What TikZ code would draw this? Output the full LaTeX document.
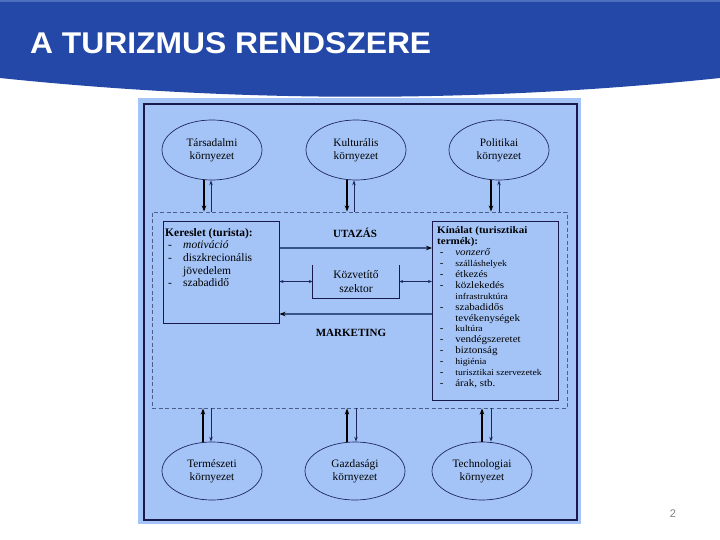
\documentclass[tikz,border=0pt]{standalone}
\usepackage{fontspec}
\setmainfont{Liberation Serif}
\newfontfamily\titlefont{Liberation Sans}
\usepackage{graphicx}
\usetikzlibrary{shapes.geometric,arrows.meta,calc}
\definecolor{hdr}{RGB}{35,72,168}
\definecolor{hdrtop}{RGB}{75,110,190}
\definecolor{pic}{RGB}{164,196,248}
\definecolor{frm}{RGB}{25,25,75}
\definecolor{dsh}{RGB}{75,95,140}
\definecolor{thk}{RGB}{55,85,135}
\definecolor{thn}{RGB}{30,40,90}
\begin{document}
\begin{tikzpicture}[x=1pt,y=-1pt,
  env/.style={ellipse,draw=thn,line width=0.7pt,minimum width=100pt,minimum height=60pt,align=center,font=\fontsize{11.3}{13}\selectfont,inner sep=0pt},
  box/.style={draw=frm,line width=1pt,inner sep=0pt},
  thickarr/.style={-{Stealth[length=6pt,width=4.5pt]},line width=1.6pt,black},
  thinarr/.style={-{Stealth[length=5pt,width=3.5pt]},line width=0.7pt,thn},
  flow/.style={line width=1.8pt,thk,-{Stealth[color=black,length=6pt,width=4.5pt]}},
  bidir/.style={{Stealth[length=4pt,width=3pt]}-{Stealth[length=4pt,width=3pt]},line width=0.6pt,thn},
  lbl/.style={inner sep=0pt,font=\bfseries\fontsize{11}{13}\selectfont},
]
\useasboundingbox (0,0) rectangle (720,540);
\fill[white] (0,0) rectangle (720,540);
% header
\fill[hdr] (0,0) -- (720,0) -- (720,78) .. controls (480,103) and (240,103) .. (0,78) -- cycle;
\fill[hdrtop] (0,0) rectangle (720,2);
\node[anchor=base west,text=white,font=\titlefont\bfseries\fontsize{30}{32}\selectfont,inner sep=0pt] (title) at (30,53.5) {\scalebox{1.06}[1]{A TURIZMUS RENDSZERE}};
% picture frame
\fill[pic] (138,98) rectangle (581,524);
\draw[frm,line width=1.2pt] (144,104) rectangle (577,520);
% ellipses
\node[env] (T1) at (212,150) {Társadalmi\\környezet};
\node[env] (T2) at (356,150) {Kulturális\\környezet};
\node[env] (T3) at (499,150) {Politikai\\környezet};
\node[env,minimum height=58pt] (B1) at (212,471) {Természeti\\környezet};
\node[env,minimum height=58pt] (B2) at (355,471) {Gazdasági\\környezet};
\node[env,minimum height=58pt] (B3) at (482,471) {Technologiai\\környezet};
% dashed system box
\node[draw=dsh,dashed,dash pattern=on 4pt off 2.5pt,line width=0.9pt,minimum width=415pt,minimum height=196pt,inner sep=0pt] (dash) at (359.5,310) {};
% boxes
\node[box,minimum width=116pt,minimum height=101pt] (keres) at (221,272.5) {};
\node[box,minimum width=126pt,minimum height=178pt] (kinal) at (495.5,311) {};
\node[inner sep=0pt,minimum width=86pt,minimum height=33pt,align=center,font=\fontsize{11.5}{14}\selectfont] (kozv) at (356,281.5) {Közvetítő\\szektor};
\draw[frm,line width=1pt] (kozv.north west) -- (kozv.south west) -- (kozv.south east) -- (kozv.north east);
% Kereslet text
\node[anchor=north west,inner sep=0pt] (kerestxt) at (165,227) {\fontsize{11.5}{12.7}\selectfont
\begin{tabular}{@{}p{18pt}@{}l@{}}
\multicolumn{2}{@{}l@{}}{\textbf{Kereslet (turista):}}\\
\hspace{3pt}- & \textit{motiváció}\\
\hspace{3pt}- & diszkrecionális\\
 & jövedelem\\
\hspace{3pt}- & szabadidő
\end{tabular}};
% Kinalat text
\node[anchor=north west,inner sep=0pt] (kinaltxt) at (437,226) {\scalebox{1.1}[1]{\fontsize{10}{10.9}\selectfont
\begin{tabular}{@{}p{16.5pt}@{}l@{}}
\multicolumn{2}{@{}l@{}}{\textbf{Kínálat (turisztikai}}\\
\multicolumn{2}{@{}l@{}}{\textbf{termék):}}\\
\hspace{2.5pt}- & \textit{vonzerő}\\
\hspace{2.5pt}- & {\fontsize{8.8}{10.9}\selectfont szálláshelyek}\\
\hspace{2.5pt}- & étkezés\\
\hspace{2.5pt}- & közlekedés\\
 & {\fontsize{8.8}{10.9}\selectfont infrastruktúra}\\
\hspace{2.5pt}- & szabadidős\\
 & tevékenységek\\
\hspace{2.5pt}- & {\fontsize{8.8}{10.9}\selectfont kultúra}\\
\hspace{2.5pt}- & vendégszeretet\\
\hspace{2.5pt}- & biztonság\\
\hspace{2.5pt}- & {\fontsize{8.8}{10.9}\selectfont higiénia}\\
\hspace{2.5pt}- & {\fontsize{8.8}{10.9}\selectfont turisztikai szervezetek}\\
\hspace{2.5pt}- & árak, stb.
\end{tabular}}};
% labels
\node[lbl] (utazas) at (355,233) {UTAZÁS};
\node[lbl] (mkt) at (351,333) {MARKETING};
% horizontal flows
\coordinate (uy) at (0,248);
\coordinate (my) at (0,314);
\draw[flow] (keres.east |- uy) -- (kinal.west |- uy);
\draw[flow] (kinal.west |- my) -- (keres.east |- my);
\draw[bidir] (keres.east |- kozv.west) -- (kozv.west);
\draw[bidir] (kozv.east) -- (kinal.west |- kozv.east);
% vertical arrows top
\foreach \n/\a/\b in {T1/-8/-1, T2/-9/-2, T3/-8/0} {
  \coordinate (\n a) at ($(\n.south)+(\a,0)$);
  \coordinate (\n b) at ($(\n.south)+(\b,0)$);
  \draw[thickarr] (\n a) -- (\n a |- dash.north);
  \draw[thinarr] (\n b |- dash.north) -- (\n b);
}
% vertical arrows bottom
\foreach \n/\a/\b in {B1/-9/-1, B2/-8/1, B3/0/9} {
  \coordinate (\n a) at ($(\n.north)+(\a,0)$);
  \coordinate (\n b) at ($(\n.north)+(\b,0)$);
  \draw[thickarr] (\n a) -- (\n a |- dash.south);
  \draw[thinarr] (\n b |- dash.south) -- (\n b);
}
% page number
\node[text=gray,font=\titlefont\fontsize{11}{13}\selectfont,inner sep=0pt] (pg) at (673,514) {2};
\end{tikzpicture}
\end{document}
